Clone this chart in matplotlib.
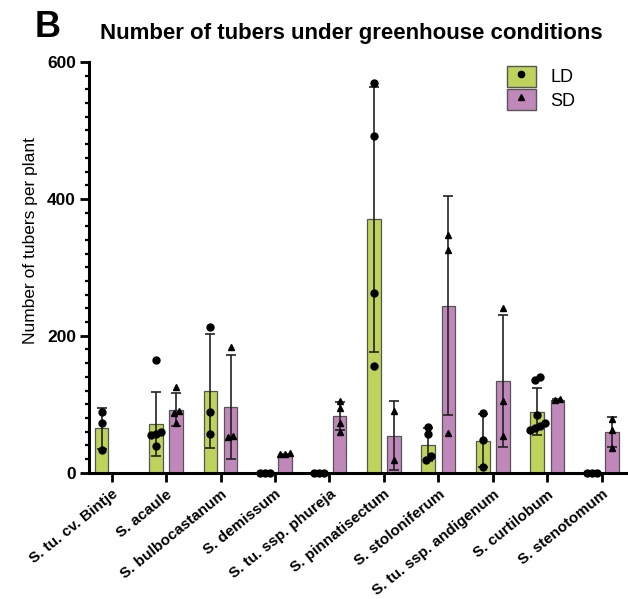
import numpy as np
import matplotlib
matplotlib.use("Agg")
import matplotlib.pyplot as plt
from matplotlib.patches import Patch
from matplotlib.lines import Line2D
from matplotlib.ticker import MultipleLocator

plt.rcParams['font.family'] = ['Liberation Sans', 'DejaVu Sans']

# species on the x axis
species = ["S. tu. cv. Bintje", "S. acaule", "S. bulbocastanum", "S. demissum",
           "S. tu. ssp. phureja", "S. pinnatisectum", "S. stoloniferum",
           "S. tu. ssp. andigenum", "S. curtilobum", "S. stenotomum"]

# long day: mean, SD and single plants
ld_mean = [65, 71, 119, 0, 0, 370, 41, 47, 89, 0]
ld_sd = [30, 47, 83, 0, 0, 194, 24, 39, 34, 0]
ld_points = [[89, 73, 33], [165, 60, 57, 55, 39], [213, 88, 56], [0, 0, 0], [0, 0, 0],
             [570, 492, 263, 156], [67, 57, 24, 18], [87, 48, 9],
             [140, 136, 84, 73, 68, 65, 63], [0, 0, 0]]

# short day
sd_mean = [None, 92, 96, 27, 83, 54, 244, 134, 106, 60]
sd_sd = [None, 24, 76, 1, 20, 50, 160, 97, 1, 22]
sd_points = [[], [125, 90, 87, 73], [184, 53, 52], [29, 28, 27], [105, 95, 73, 59],
             [90, 18], [347, 325, 58], [241, 105, 54], [107, 106], [79, 62, 36]]

green = '#bdd35c'
pink = '#c088ba'
width = 0.25
off = 0.185


def spread(vals, tol=10, step=0.09):
    # horizontal offsets so overlapping dots sit side by side
    order = np.argsort(vals)
    offs = np.zeros(len(vals))
    groups, cur = [], [order[0]]
    for i in order[1:]:
        if vals[i] - vals[cur[-1]] < tol:
            cur.append(i)
        else:
            groups.append(cur)
            cur = [i]
    groups.append(cur)
    for g in groups:
        n = len(g)
        for k, i in enumerate(g):
            offs[i] = (k - (n - 1) / 2) * step
    return offs


fig = plt.figure(figsize=(6.28, 5.99), dpi=100)
ax = fig.add_axes([0.1422, 0.2109, 0.855, 0.6856])

x = np.arange(len(species))
for i in x:
    for mean, sd, pts, col, mk, dx in [(ld_mean[i], ld_sd[i], ld_points[i], green, 'o', -off),
                                        (sd_mean[i], sd_sd[i], sd_points[i], pink, '^', off)]:
        if mean is None:
            continue
        xc = i + dx
        if mean > 0:
            ax.bar(xc, mean, width=width, color=col, edgecolor='#555555', linewidth=0.9, zorder=2)
        if sd > 0:
            ax.errorbar(xc, mean, yerr=sd, fmt='none', ecolor='#222222', elinewidth=1.2,
                        capsize=3.5, capthick=1.2, zorder=3)
        if pts:
            p = np.array(pts, dtype=float)
            ax.plot(xc + spread(p), p, linestyle='none', marker=mk, color='black',
                    markersize=5, zorder=4, clip_on=False)

ax.set_xlim(-0.41, 9.45)
ax.set_ylim(0, 600)
ax.yaxis.set_major_locator(MultipleLocator(200))
ax.yaxis.set_minor_locator(MultipleLocator(20))
ax.set_xticks(x)
ax.set_xticklabels(species, rotation=39, ha='right', rotation_mode='anchor',
                   fontsize=11, fontweight='bold')
for lab in ax.get_yticklabels():
    lab.set_fontweight('bold')
    lab.set_fontsize(12.5)

for s in ['top', 'right']:
    ax.spines[s].set_visible(False)
for s in ['left', 'bottom']:
    ax.spines[s].set_linewidth(2.2)
ax.tick_params(axis='both', which='major', length=6.5, width=2.0, pad=3)
ax.tick_params(axis='x', which='major', pad=4)
ax.tick_params(axis='y', which='minor', length=3, width=1.6)

fig.text(30 / 628, 1 - 241 / 599, 'Number of tubers per plant', rotation=90,
         ha='center', va='center', fontsize=12.5)

fig.text(35 / 628, 1 - 36.7 / 599, 'B', fontsize=26, fontweight='bold', ha='left', va='baseline')
fig.text(100 / 628, 1 - 39.3 / 599, 'Number of tubers under greenhouse conditions',
         fontsize=16, fontweight='bold', ha='left', va='baseline')

handles = [(Patch(facecolor=green, edgecolor='#555555'),
            Line2D([], [], linestyle='none', marker='o', color='black', markersize=4.5)),
           (Patch(facecolor=pink, edgecolor='#555555'),
            Line2D([], [], linestyle='none', marker='^', color='black', markersize=4.5))]
ax.legend(handles, ['LD', 'SD'], loc='upper left', bbox_to_anchor=(506.7 / 628, 1 - 65.7 / 599),
          bbox_transform=fig.transFigure, frameon=False, fontsize=13, borderpad=0,
          borderaxespad=0, handlelength=1.6, handleheight=1.4, labelspacing=0.15,
          handletextpad=0.8)

fig.savefig('out.png', dpi=100)
